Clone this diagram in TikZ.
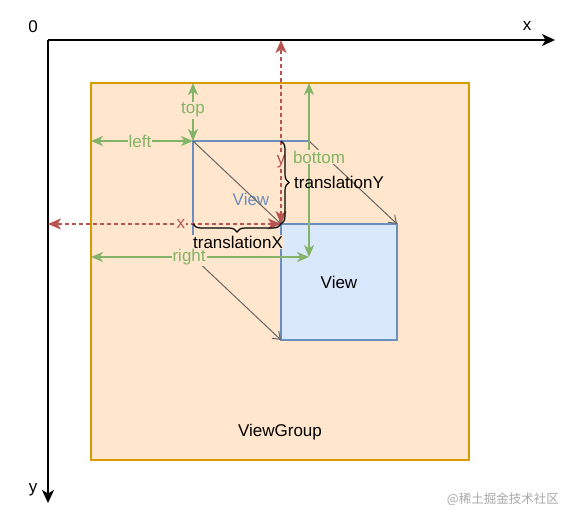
\documentclass[tikz,border=0pt]{standalone}
\usepackage{fontspec}
\setmainfont{Liberation Sans}
\newfontfamily\cjkfont{Noto Sans CJK SC}
\usetikzlibrary{arrows.meta,decorations.pathreplacing,calc}
\definecolor{vgfill}{HTML}{FFE6CC}
\definecolor{vgdraw}{HTML}{D79B00}
\definecolor{vfill}{HTML}{DAE8FC}
\definecolor{vdraw}{HTML}{6C8EBF}
\definecolor{gcol}{HTML}{82B366}
\definecolor{rcol}{HTML}{B85450}
\definecolor{diagcol}{HTML}{666666}
\definecolor{wmcol}{HTML}{A8A8A8}
\tikzset{
  vgbox/.style={draw=vgdraw, fill=vgfill, line width=1.2pt, inner sep=0pt, outer sep=0pt, minimum width=378pt, minimum height=377pt},
  viewbox/.style={draw=vdraw, line width=1.2pt, inner sep=0pt, outer sep=0pt, minimum width=116pt, minimum height=116pt},
  axisline/.style={line width=1.5pt, black, -{Stealth[length=13pt,width=12pt,inset=3.5pt]}},
  garrow/.style={gcol, line width=1.8pt, {Stealth[length=12pt,width=10pt,inset=3.5pt]}-{Stealth[length=12pt,width=10pt,inset=3.5pt]}},
  rarrow/.style={rcol, line width=1.5pt, dash pattern=on 4pt off 3pt, {Stealth[length=13pt,width=11pt,inset=3.5pt]}-{Stealth[length=13pt,width=11pt,inset=3.5pt]}},
  diagline/.style={diagcol, line width=1pt, -{Straight Barb[length=7pt,width=10pt]}},
  glabel/.style={text=gcol, fill=vgfill, inner sep=1pt},
  rlabel/.style={text=rcol, fill=vgfill, inner sep=1pt},
  bracestyle/.style={black, line width=1.2pt, decorate},
  plainlabel/.style={inner sep=0pt}
}
\begin{document}
\begin{tikzpicture}[x=1pt, y=-1pt, font=\fontsize{17}{20}\selectfont]
\useasboundingbox (0,0) rectangle (574,520);
\fill[white] (0,0) rectangle (574,520);

% ViewGroup
\node[vgbox] (vg) at (280,271.5) {};
\node[plainlabel] (vglabel) at (280,432) {ViewGroup};

% axes
\coordinate (O) at (48,40);
\coordinate (xend) at (555,40);
\coordinate (yend) at (48,503);
\draw[axisline] (O) -- (xend);
\draw[axisline] (O) -- (yend);
\node[plainlabel] (l0) at (33,27) {0};
\node[plainlabel] (lx) at (527,26) {x};
\node[plainlabel] (ly) at (33,490) {y};

% original view (outline only)
\node[viewbox, text=vdraw] (v0) at (251,199) {View};

% translated view
\node[viewbox, fill=vfill] (v1) at (339,282) {View};

% diagonals (translation)
\draw[diagline] (v0.north west) -- (v1.north west);
\draw[diagline] (v0.north east) -- (v1.north east);
\draw[diagline] (v0.south west) -- (v1.south west);

% translation X label (with background, hides part of the old view)
\node[fill=vgfill, inner sep=1pt] (ltx) at (238,242) {translationX};

% green measurement arrows
\draw[garrow] (vg.north -| v0.north west) -- (v0.north west)
  node[glabel, pos=0.47] (ltop) {top};
\draw[garrow] (vg.west |- v0.north west) -- (v0.north west)
  node[glabel, pos=0.48] (lleft) {left};
\draw[garrow] (vg.north -| v0.north east) -- (v0.south east);
\node[glabel] (lbottom) at (319,157) {bottom};
\draw[garrow] (vg.west |- v0.south west) -- (v0.south east)
  node[glabel, pos=0.45] (lright) {right};

% red dashed coordinate arrows
\draw[rarrow] (v1.north west) -- (v1.north west |- O)
  node[rlabel, pos=0.34] (ly2) {y};
\draw[rarrow] (v1.north west) -- (O |- v1.north west)
  node[rlabel, pos=0.43] (lx2) {x};

% translation Y label
\node[plainlabel, anchor=west] (lty) at (294,182) {translationY};

% braces
\draw[bracestyle, decoration={brace, mirror, amplitude=8pt}]
  (v0.north west |- v1.north west) -- (v1.north west);
\draw[bracestyle, decoration={brace, amplitude=8pt}]
  (v0.north west -| v1.north west) -- (v1.north west);

% watermark
\node[plainlabel, anchor=east, text=wmcol, font=\cjkfont\fontsize{12.5}{14}\selectfont] (wm) at (559,499) {@稀土掘金技术社区};
\end{tikzpicture}
\end{document}
